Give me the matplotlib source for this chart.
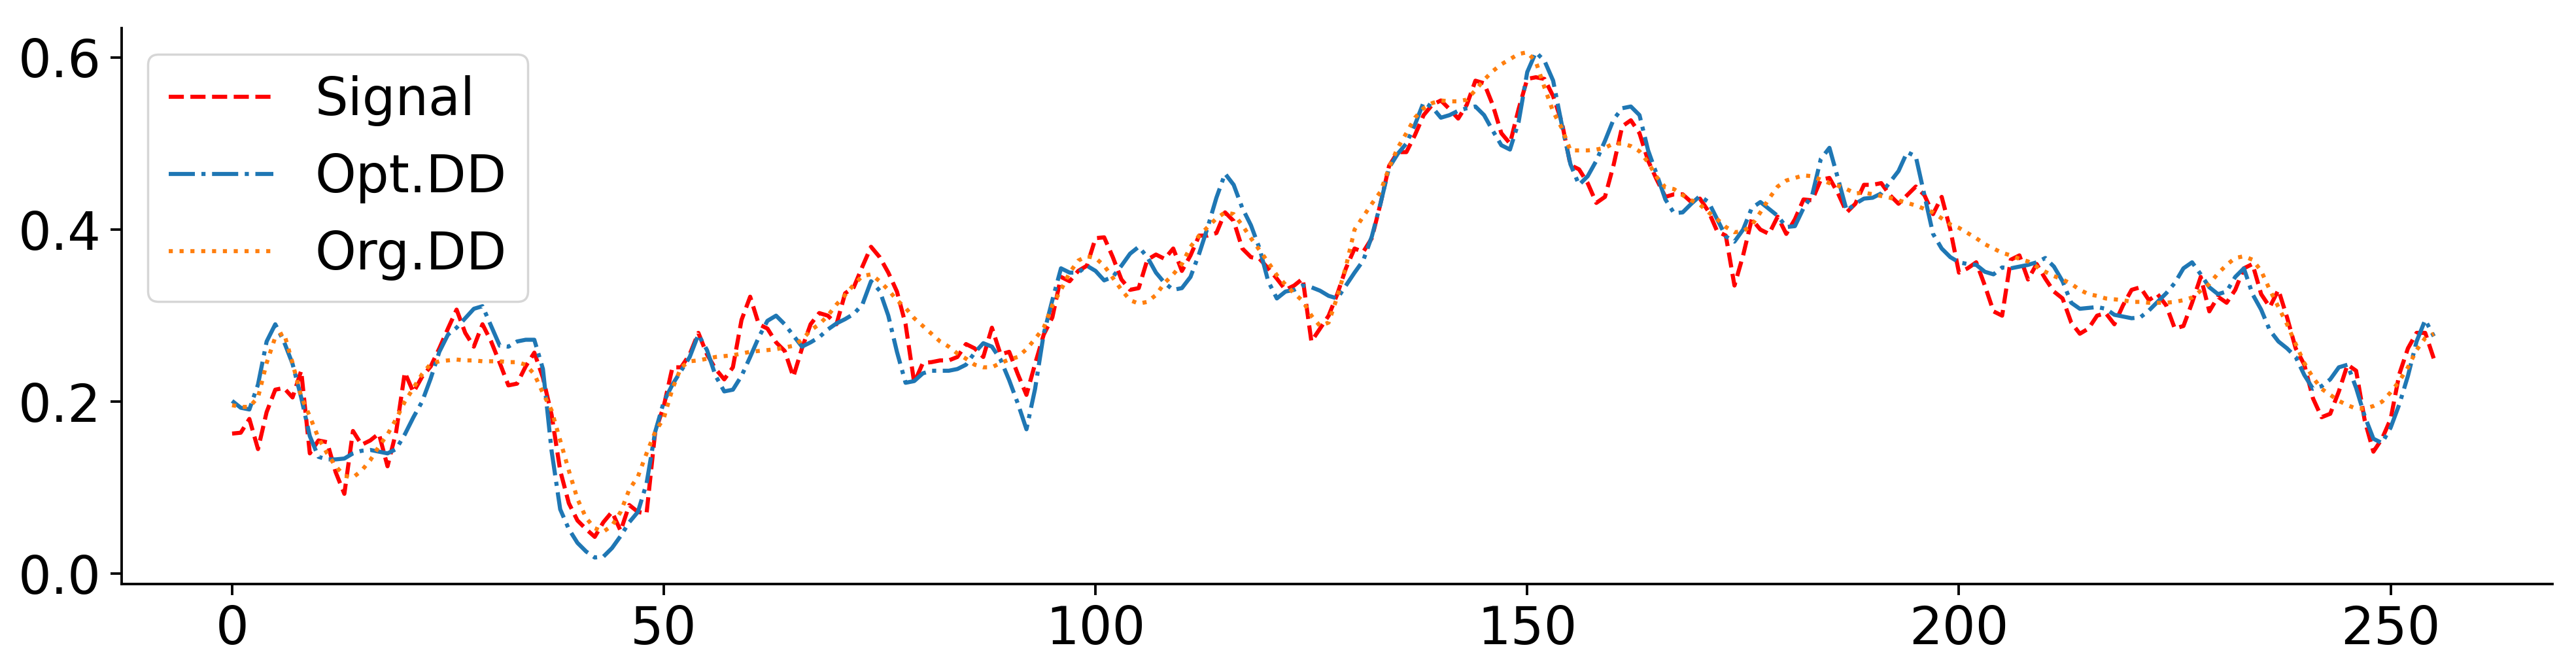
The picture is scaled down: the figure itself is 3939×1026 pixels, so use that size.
import numpy as np
import matplotlib
matplotlib.use("Agg")
import matplotlib.pyplot as plt


# ---------------------------
# DATA (one value per sample)
# ---------------------------
signal = [
    0.163, 0.164, 0.180, 0.145, 0.188, 0.214, 0.216, 0.205, 0.236, 0.140,
    0.155, 0.153, 0.118, 0.093, 0.166, 0.150, 0.155, 0.163, 0.125, 0.165,
    0.234, 0.211, 0.229, 0.241, 0.262, 0.285, 0.307, 0.280, 0.264, 0.290,
    0.270, 0.245, 0.219, 0.221, 0.241, 0.257, 0.228, 0.185, 0.120, 0.082,
    0.062, 0.052, 0.043, 0.060, 0.072, 0.050, 0.080, 0.072, 0.070, 0.165,
    0.195, 0.240, 0.240, 0.255, 0.280, 0.255, 0.238, 0.226, 0.240, 0.295,
    0.322, 0.290, 0.285, 0.269, 0.259, 0.229, 0.262, 0.290, 0.303, 0.300,
    0.290, 0.326, 0.333, 0.357, 0.380, 0.368, 0.350, 0.328, 0.290, 0.222,
    0.245, 0.246, 0.248, 0.248, 0.252, 0.267, 0.262, 0.252, 0.286, 0.255,
    0.258, 0.232, 0.208, 0.244, 0.278, 0.298, 0.345, 0.340, 0.352, 0.358,
    0.390, 0.391, 0.368, 0.342, 0.330, 0.332, 0.365, 0.371, 0.366, 0.378,
    0.352, 0.370, 0.393, 0.393, 0.396, 0.420, 0.410, 0.378, 0.368, 0.366,
    0.355, 0.343, 0.330, 0.335, 0.343, 0.270, 0.285, 0.300, 0.325, 0.355,
    0.378, 0.374, 0.390, 0.430, 0.474, 0.490, 0.490, 0.510, 0.533, 0.545,
    0.550, 0.540, 0.529, 0.545, 0.573, 0.570, 0.545, 0.512, 0.500, 0.540,
    0.575, 0.577, 0.575, 0.555, 0.525, 0.475, 0.470, 0.454, 0.431, 0.438,
    0.475, 0.520, 0.527, 0.512, 0.480, 0.458, 0.438, 0.441, 0.441, 0.432,
    0.436, 0.421, 0.398, 0.393, 0.335, 0.370, 0.412, 0.400, 0.395, 0.415,
    0.395, 0.412, 0.435, 0.434, 0.458, 0.460, 0.442, 0.420, 0.430, 0.452,
    0.452, 0.454, 0.440, 0.430, 0.440, 0.450, 0.440, 0.418, 0.438, 0.400,
    0.350, 0.355, 0.362, 0.335, 0.305, 0.300, 0.365, 0.370, 0.342, 0.360,
    0.343, 0.328, 0.320, 0.292, 0.279, 0.285, 0.300, 0.303, 0.290, 0.312,
    0.330, 0.333, 0.318, 0.325, 0.312, 0.285, 0.288, 0.315, 0.345, 0.305,
    0.322, 0.315, 0.330, 0.355, 0.360, 0.325, 0.310, 0.330, 0.298, 0.262,
    0.243, 0.204, 0.182, 0.186, 0.212, 0.243, 0.236, 0.178, 0.142, 0.157,
    0.180, 0.232, 0.262, 0.280, 0.280, 0.250,
]

opt_dd = [
    0.201, 0.193, 0.191, 0.220, 0.270, 0.290, 0.270, 0.244, 0.205, 0.160,
    0.136, 0.133, 0.133, 0.134, 0.140, 0.143, 0.144, 0.142, 0.140, 0.145,
    0.162, 0.182, 0.200, 0.227, 0.258, 0.278, 0.286, 0.297, 0.308, 0.311,
    0.288, 0.265, 0.264, 0.270, 0.272, 0.272, 0.238, 0.143, 0.075, 0.052,
    0.036, 0.026, 0.019, 0.020, 0.030, 0.044, 0.060, 0.072, 0.105, 0.165,
    0.200, 0.220, 0.236, 0.252, 0.278, 0.260, 0.230, 0.212, 0.214, 0.230,
    0.252, 0.275, 0.294, 0.300, 0.290, 0.277, 0.264, 0.269, 0.275, 0.284,
    0.291, 0.296, 0.302, 0.313, 0.340, 0.329, 0.300, 0.258, 0.222, 0.224,
    0.233, 0.236, 0.236, 0.236, 0.238, 0.243, 0.257, 0.268, 0.264, 0.249,
    0.225, 0.198, 0.168, 0.215, 0.279, 0.318, 0.355, 0.350, 0.350, 0.358,
    0.352, 0.341, 0.345, 0.358, 0.372, 0.380, 0.368, 0.350, 0.338, 0.330,
    0.332, 0.345, 0.372, 0.403, 0.437, 0.465, 0.452, 0.425, 0.405, 0.378,
    0.340, 0.320, 0.328, 0.330, 0.335, 0.333, 0.329, 0.323, 0.320, 0.335,
    0.350, 0.364, 0.392, 0.430, 0.472, 0.488, 0.500, 0.522, 0.548, 0.542,
    0.530, 0.533, 0.538, 0.541, 0.543, 0.533, 0.515, 0.498, 0.493, 0.525,
    0.583, 0.606, 0.596, 0.573, 0.522, 0.476, 0.452, 0.462, 0.480, 0.503,
    0.528, 0.541, 0.543, 0.533, 0.492, 0.464, 0.435, 0.419, 0.420, 0.430,
    0.439, 0.432, 0.412, 0.392, 0.386, 0.400, 0.425, 0.432, 0.424, 0.416,
    0.403, 0.404, 0.425, 0.440, 0.482, 0.495, 0.459, 0.422, 0.430, 0.436,
    0.437, 0.442, 0.455, 0.468, 0.490, 0.485, 0.440, 0.395, 0.378, 0.368,
    0.362, 0.360, 0.359, 0.351, 0.348, 0.356, 0.355, 0.357, 0.359, 0.362,
    0.367, 0.357, 0.340, 0.315, 0.308, 0.309, 0.310, 0.308, 0.301, 0.299,
    0.297, 0.298, 0.306, 0.316, 0.326, 0.338, 0.355, 0.362, 0.348, 0.333,
    0.325, 0.328, 0.345, 0.355, 0.325, 0.307, 0.283, 0.270, 0.262, 0.252,
    0.231, 0.215, 0.218, 0.226, 0.240, 0.243, 0.216, 0.183, 0.157, 0.152,
    0.170, 0.197, 0.230, 0.270, 0.295, 0.276,
]

org_dd = [
    0.196, 0.194, 0.194, 0.205, 0.245, 0.275, 0.280, 0.245, 0.206, 0.183,
    0.158, 0.140, 0.125, 0.114, 0.112, 0.120, 0.132, 0.148, 0.162, 0.180,
    0.200, 0.216, 0.232, 0.244, 0.247, 0.248, 0.249, 0.248, 0.248, 0.247,
    0.247, 0.247, 0.246, 0.246, 0.243, 0.232, 0.210, 0.190, 0.155, 0.120,
    0.087, 0.065, 0.053, 0.049, 0.056, 0.072, 0.098, 0.113, 0.140, 0.165,
    0.181, 0.215, 0.240, 0.247, 0.248, 0.250, 0.252, 0.253, 0.254, 0.256,
    0.258, 0.259, 0.260, 0.261, 0.263, 0.265, 0.272, 0.283, 0.290, 0.300,
    0.313, 0.324, 0.336, 0.346, 0.348, 0.340, 0.330, 0.318, 0.309, 0.297,
    0.288, 0.279, 0.270, 0.264, 0.256, 0.250, 0.243, 0.240, 0.240, 0.245,
    0.249, 0.252, 0.261, 0.273, 0.286, 0.312, 0.330, 0.350, 0.364, 0.369,
    0.367, 0.358, 0.344, 0.330, 0.318, 0.314, 0.316, 0.324, 0.338, 0.348,
    0.360, 0.380, 0.393, 0.403, 0.413, 0.420, 0.418, 0.405, 0.390, 0.376,
    0.362, 0.347, 0.336, 0.326, 0.317, 0.300, 0.288, 0.292, 0.322, 0.357,
    0.400, 0.415, 0.430, 0.444, 0.472, 0.495, 0.512, 0.530, 0.541, 0.547,
    0.550, 0.549, 0.549, 0.551, 0.562, 0.574, 0.584, 0.592, 0.598, 0.604,
    0.606, 0.595, 0.565, 0.537, 0.518, 0.492, 0.492, 0.492, 0.493, 0.495,
    0.500, 0.500, 0.497, 0.491, 0.478, 0.461, 0.449, 0.447, 0.440, 0.434,
    0.429, 0.420, 0.412, 0.403, 0.397, 0.398, 0.405, 0.420, 0.436, 0.450,
    0.457, 0.460, 0.463, 0.462, 0.458, 0.454, 0.451, 0.447, 0.442, 0.443,
    0.441, 0.439, 0.437, 0.434, 0.431, 0.428, 0.424, 0.420, 0.413, 0.406,
    0.402, 0.396, 0.390, 0.383, 0.378, 0.373, 0.370, 0.366, 0.363, 0.357,
    0.351, 0.346, 0.342, 0.337, 0.330, 0.325, 0.323, 0.320, 0.319, 0.318,
    0.316, 0.316, 0.315, 0.315, 0.315, 0.316, 0.318, 0.321, 0.329, 0.337,
    0.349, 0.359, 0.367, 0.369, 0.365, 0.352, 0.330, 0.310, 0.290, 0.267,
    0.245, 0.228, 0.215, 0.208, 0.201, 0.196, 0.192, 0.192, 0.195, 0.200,
    0.211, 0.224, 0.240, 0.260, 0.274, 0.279,
]

x_ticks = [0, 50, 100, 150, 200, 250]
y_ticks = [0.0, 0.2, 0.4, 0.6]


# ---------------------------
# PLOT
# ---------------------------
fig = plt.figure(figsize=(15.756, 4.104), dpi=250)
ax = fig.add_axes([0.0472, 0.130, 0.9437, 0.828])

x = np.arange(len(signal))
ax.plot(x, signal, linestyle="--", color="red", linewidth=1.8, label="Signal")
ax.plot(x, opt_dd, linestyle="-.", color="#1f77b4", linewidth=1.8, label="Opt.DD")
ax.plot(x, org_dd, linestyle=":", color="#ff7f0e", linewidth=1.8, label="Org.DD")

ax.set_xlim(-12.8, 268.75)
ax.set_ylim(-0.0115, 0.634)
ax.set_xticks(x_ticks)
ax.set_yticks(y_ticks)
ax.set_yticklabels([f"{v:.1f}" for v in y_ticks])

ax.spines["top"].set_visible(False)
ax.spines["right"].set_visible(False)
for side in ("left", "bottom"):
    ax.spines[side].set_linewidth(1.1)
ax.tick_params(labelsize=23, length=5, width=1.1, pad=4)

ax.legend(loc="upper left", fontsize=23)

fig.savefig("out.png", dpi=250)
plt.close(fig)
